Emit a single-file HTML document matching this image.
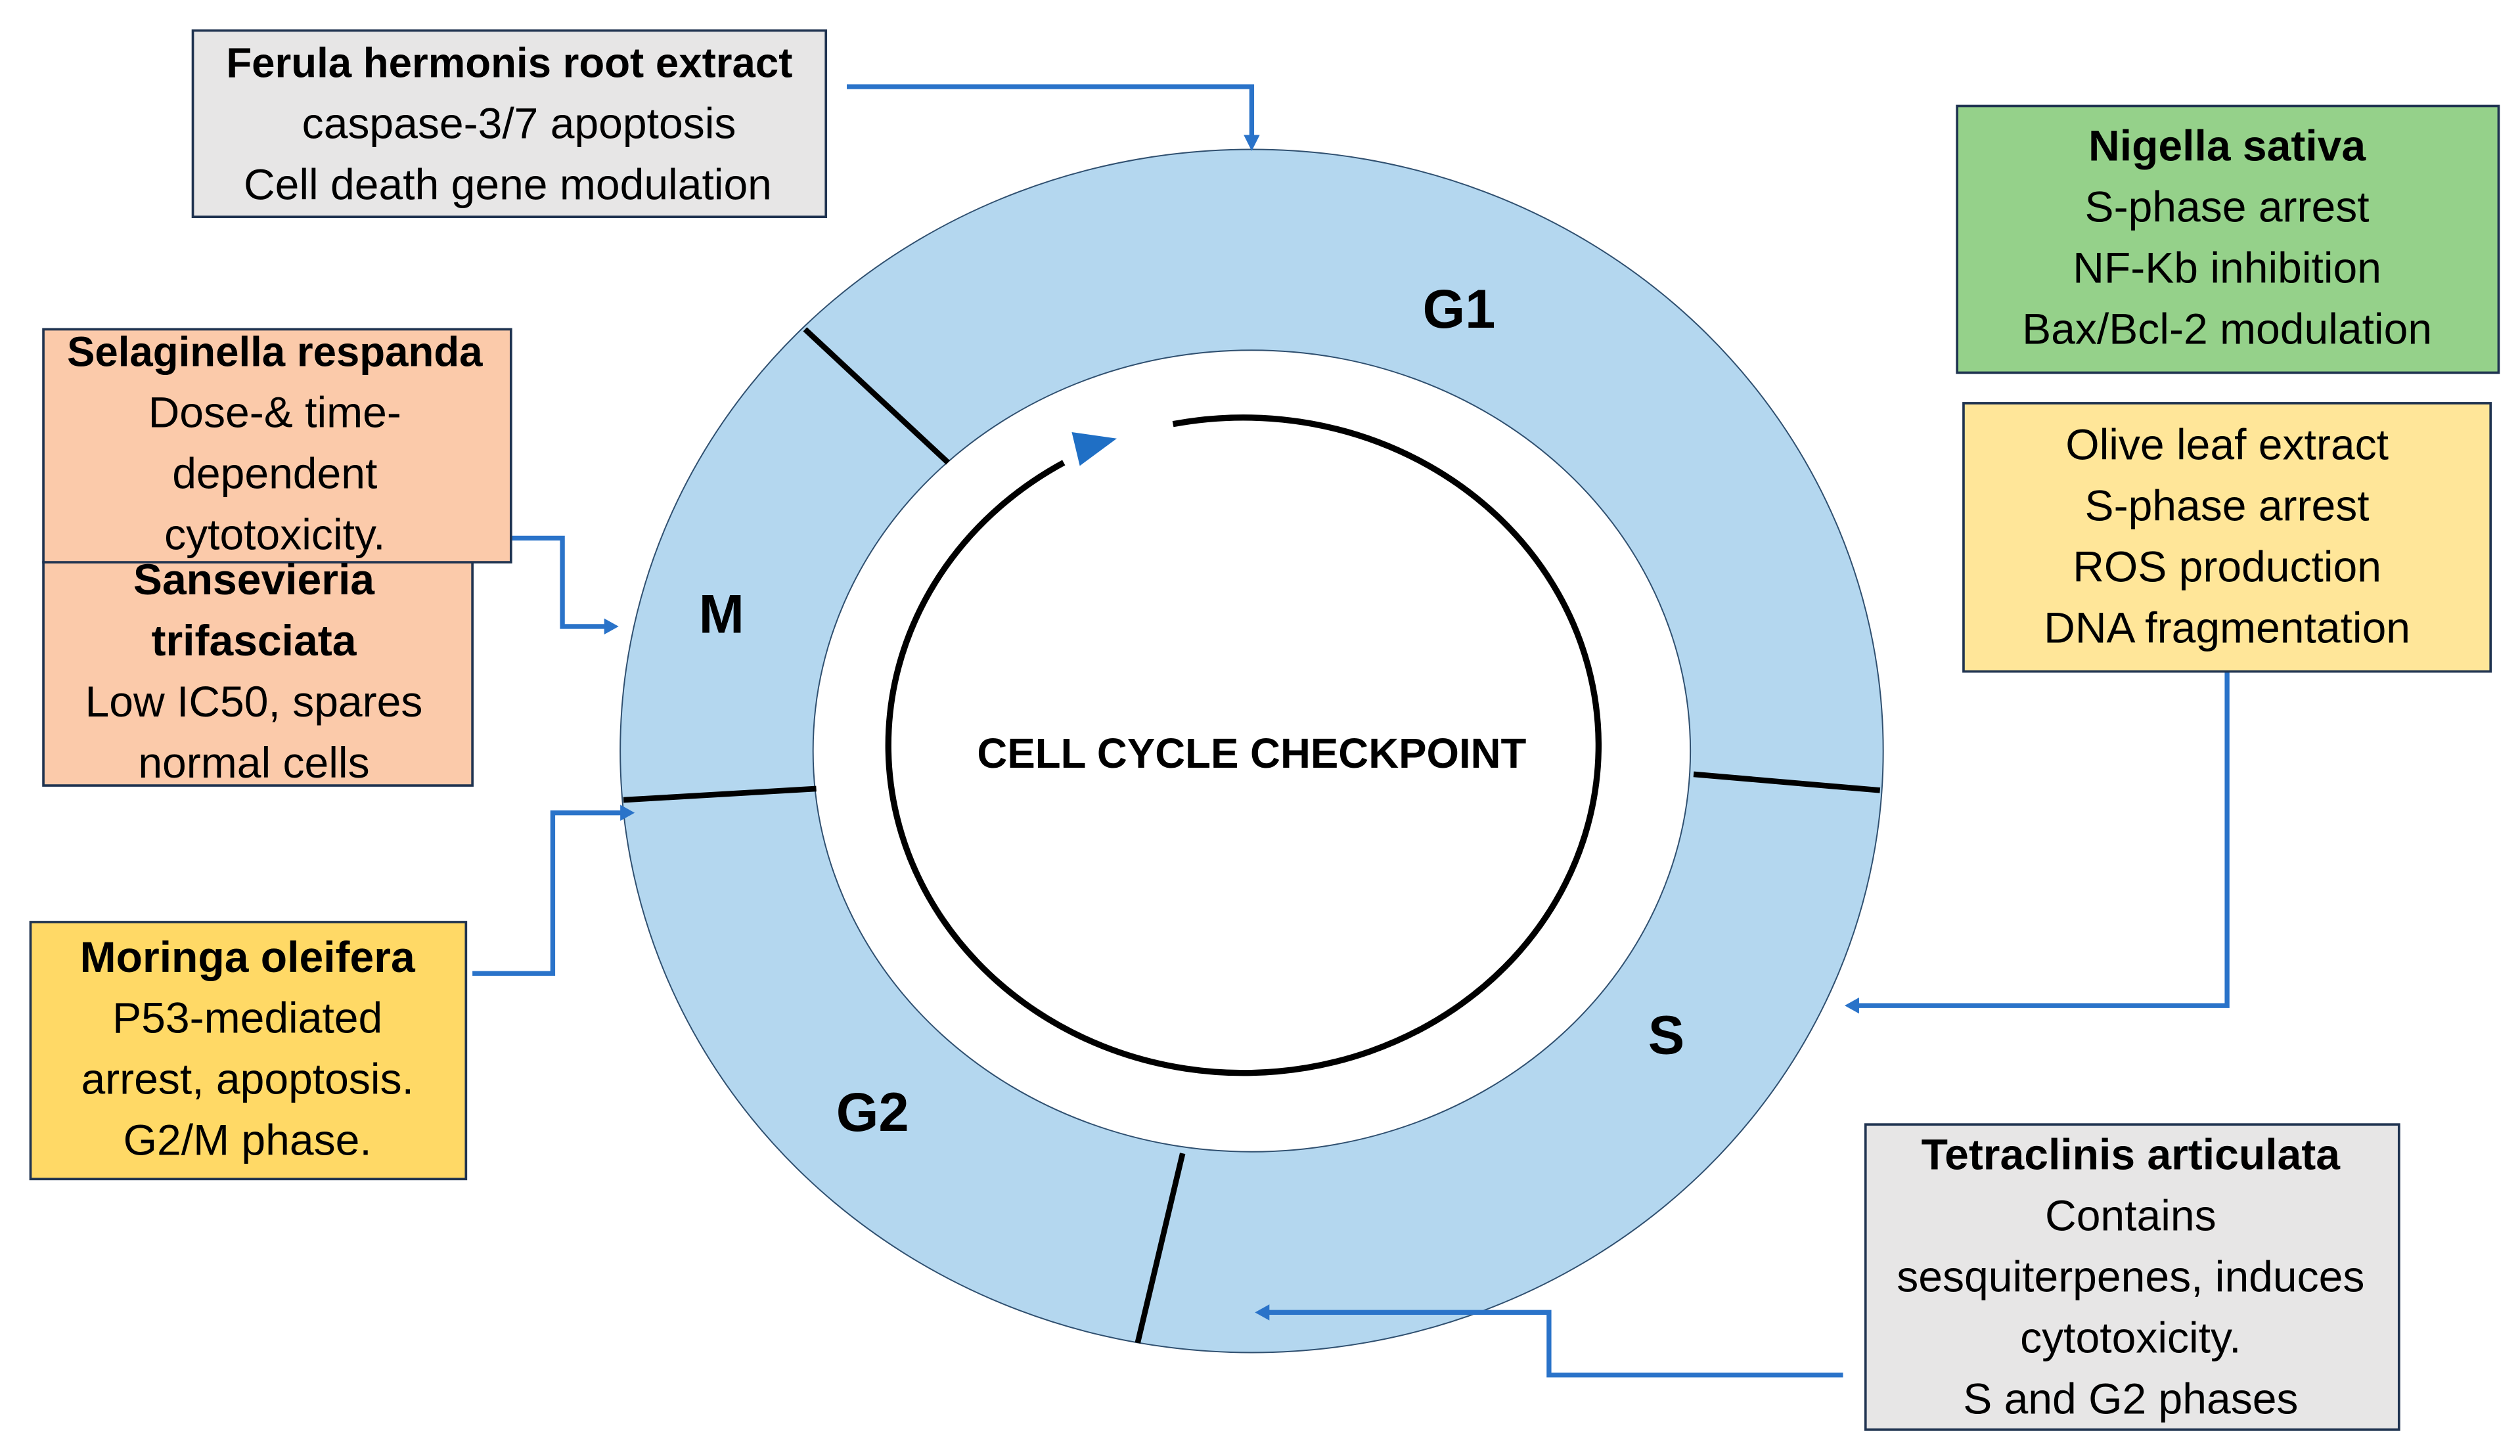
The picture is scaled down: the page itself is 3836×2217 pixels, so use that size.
<!DOCTYPE html>
<html><head><meta charset="utf-8"><style>html,body{margin:0;padding:0;background:#fff}svg{display:block}</style></head>
<body>
<svg width="3836" height="2217" viewBox="0 0 1568.3 906.4" xmlns="http://www.w3.org/2000/svg" font-family="Liberation Sans, sans-serif">
<rect width="1568.3" height="906.4" fill="#fff"/>
<path fill-rule="evenodd" fill="#b4d7ef" stroke="#2f4f6f" stroke-width="0.8" d="M386,467.5 a393,374.5 0 1,0 786,0 a393,374.5 0 1,0 -786,0 Z M506,467.5 a273,249.5 0 1,0 546,0 a273,249.5 0 1,0 -546,0 Z"/>
<g stroke="#000" stroke-width="3.5">
<line x1="501" y1="205" x2="590" y2="288"/>
<line x1="1054" y1="482" x2="1170" y2="492"/>
<line x1="388" y1="498" x2="508" y2="491"/>
<line x1="736" y1="718" x2="708" y2="836"/>
</g>
<path d="M730,264 A221,204 0 1,1 662,288" fill="none" stroke="#000" stroke-width="3.8"/>
<polygon points="667,269 695,273 672,290" fill="#1f6fc5"/>
<g font-weight="bold" fill="#000" text-anchor="middle">
<text x="908" y="204" font-size="34">G1</text>
<text x="449" y="394" font-size="34">M</text>
<text x="1037" y="656" font-size="34">S</text>
<text x="543" y="704" font-size="34">G2</text>
<text x="779" y="478" font-size="26">CELL CYCLE CHECKPOINT</text>
</g>
<g fill="none" stroke="#2a73c9" stroke-width="3">
<polyline points="527,54 779,54 779,86"/>
<polyline points="318,335 350,335 350,390 377,390"/>
<polyline points="294,606 344,606 344,506 387,506"/>
<polyline points="1386,418 1386,626 1155,626"/>
<polyline points="1147,856 964,856 964,817 788,817"/>
</g>
<g fill="#2a73c9">
<polygon points="774,84 784,84 779,94"/>
<polygon points="376,385 376,395 385,390"/>
<polygon points="386,501 386,511 395,506"/>
<polygon points="1157,621 1157,631 1148,626"/>
<polygon points="790,812 790,822 781,817"/>
</g>
<g stroke="#1f3350" stroke-width="1.5">
<rect x="120" y="19" width="394" height="116" fill="#e7e6e6"/>
<rect x="1218" y="66" width="337" height="166" fill="#95d18a"/>
<rect x="1222" y="251" width="328" height="167" fill="#ffe699"/>
<rect x="27" y="350" width="267" height="139" fill="#fbcaaa"/>
<rect x="27" y="205" width="291" height="145" fill="#fbcaaa"/>
<rect x="19" y="574" width="271" height="160" fill="#ffd966"/>
<rect x="1161" y="700" width="332" height="190" fill="#e7e6e6"/>
</g>
<g font-size="27" fill="#000" text-anchor="middle">
<text x="317" y="48" font-weight="bold" font-size="26">Ferula hermonis root extract</text>
<text x="323" y="86">caspase-3/7 apoptosis</text>
<text x="316" y="124">Cell death gene modulation</text>
<text x="1386" y="100" font-weight="bold">Nigella sativa</text>
<text x="1386" y="138">S-phase arrest</text>
<text x="1386" y="176">NF-Kb inhibition</text>
<text x="1386" y="214">Bax/Bcl-2 modulation</text>
<text x="1386" y="286">Olive leaf extract</text>
<text x="1386" y="324">S-phase arrest</text>
<text x="1386" y="362">ROS production</text>
<text x="1386" y="400">DNA fragmentation</text>
<text x="171" y="228" font-weight="bold" font-size="26">Selaginella respanda</text>
<text x="171" y="266">Dose-&amp; time-</text>
<text x="171" y="304">dependent</text>
<text x="171" y="342">cytotoxicity.</text>
<text x="158" y="370" font-weight="bold">Sansevieria</text>
<text x="158" y="408" font-weight="bold">trifasciata</text>
<text x="158" y="446">Low IC50, spares</text>
<text x="158" y="484">normal cells</text>
<text x="154" y="605" font-weight="bold">Moringa oleifera</text>
<text x="154" y="643">P53-mediated</text>
<text x="154" y="681">arrest, apoptosis.</text>
<text x="154" y="719">G2/M phase.</text>
<text x="1326" y="728" font-weight="bold">Tetraclinis articulata</text>
<text x="1326" y="766">Contains</text>
<text x="1326" y="804">sesquiterpenes, induces</text>
<text x="1326" y="842">cytotoxicity.</text>
<text x="1326" y="880">S and G2 phases</text>
</g>
</svg>
</body></html>
